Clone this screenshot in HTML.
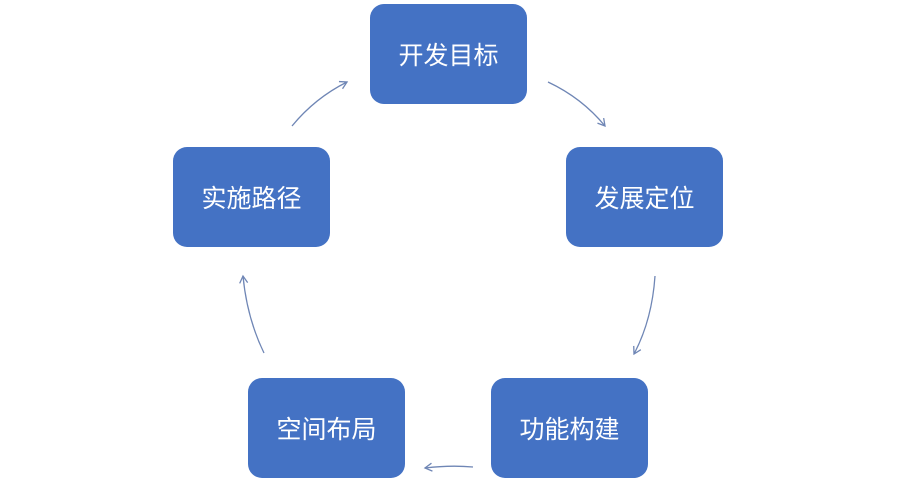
<!DOCTYPE html>
<html><head><meta charset="utf-8"><style>
body{margin:0;width:900px;height:482px;background:#fff;position:relative;overflow:hidden;font-family:"Liberation Sans","Noto Sans CJK SC",sans-serif}
.b{position:absolute;width:157px;height:100px;background:#4472C4;border-radius:14px;color:#fff;font-size:25px;display:flex;align-items:center;justify-content:center}
svg{position:absolute;left:0;top:0}
</style></head><body>
<div class="b" style="left:370px;top:4px">开发目标</div>
<div class="b" style="left:566px;top:147px">发展定位</div>
<div class="b" style="left:173px;top:147px">实施路径</div>
<div class="b" style="left:248px;top:378px">空间布局</div>
<div class="b" style="left:491px;top:378px">功能构建</div>
<svg width="900" height="482">
<defs><marker id="a" markerWidth="10" markerHeight="10" refX="8" refY="5" orient="auto" markerUnits="userSpaceOnUse"><path d="M1,1 L8,5 L1,9" fill="none" stroke="#6F86B5" stroke-width="1.3"/></marker></defs>
<g fill="none" stroke="#6F86B5" stroke-width="1.3" marker-end="url(#a)">
<path d="M292,126 Q315,98 347,82"/>
<path d="M548,82 Q582,98 605,126"/>
<path d="M655,276 Q652,320 634,354"/>
<path d="M473,467 Q450,465 425,468"/>
<path d="M264,353 Q247,318 243,276"/>
</g></svg>
</body></html>
